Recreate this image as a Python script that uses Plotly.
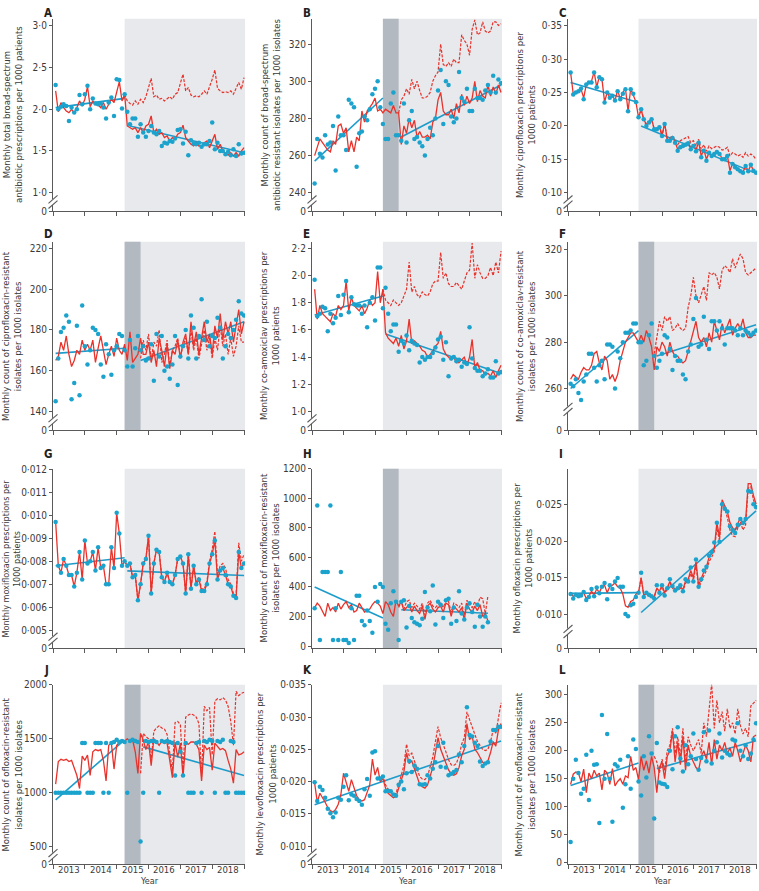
import plotly.graph_objects as go

W, H = 759, 891
MONTHS = list(range(1, 73))
YEAR_LABELS = ["2013", "2014", "2015", "2016", "2017", "2018"]

# ---------------- Panel A ----------------
A_obs = [2.29, 2.00, 2.03, 2.06, 2.04, 1.86, 2.02, 1.96, 2.00, 2.17, 2.06, 2.18,
         2.28, 2.00, 2.13, 2.07, 2.06, 2.07, 2.02, 1.89, 2.08, 2.14, 1.92, 2.36,
         2.35, 2.01, 2.18, 1.97, 1.82, 1.89, 1.89, 1.67, 1.82, 1.72, 1.67, 1.74,
         1.80, 1.72, 1.70, 1.74, 1.56, 1.60, 1.59, 1.62, 1.61, 1.65, 1.75, 1.76,
         1.59, 1.73, 1.45, 1.63, 1.59, 1.58, 1.60, 1.55, 1.58, 1.58, 1.62, 1.84,
         1.52, 1.60, 1.50, 1.50, 1.46, 1.49, 1.45, 1.52, 1.44, 1.58, 1.47, 1.48]
A_fit = [2.22, 1.97, 2.08, 2.02, 1.98, 1.96, 2.00, 1.95, 2.02, 2.10, 2.04, 2.12,
         2.27, 2.03, 2.10, 2.06, 2.05, 2.02, 2.08, 2.00, 2.06, 2.12, 2.08, 2.22,
         2.33, 2.10, 2.18, 1.80, 1.78, 1.76, 1.78, 1.72, 1.78, 1.72, 1.80, 1.82,
         1.92, 1.72, 1.76, 1.70, 1.72, 1.66, 1.68, 1.62, 1.66, 1.64, 1.70, 1.72,
         1.81, 1.66, 1.62, 1.58, 1.56, 1.60, 1.56, 1.56, 1.60, 1.62, 1.54, 1.62,
         1.70, 1.52, 1.58, 1.50, 1.47, 1.45, 1.48, 1.44, 1.48, 1.44, 1.50, 1.54]
A_cf = [2.18,
        2.10, 2.07, 2.05, 2.10, 2.06, 2.12, 2.08, 2.15, 2.25,
        2.37, 2.15, 2.17, 2.12, 2.13, 2.10, 2.12, 2.15, 2.12, 2.18, 2.20, 2.30,
        2.42, 2.22, 2.26, 2.17, 2.15, 2.16, 2.15, 2.18, 2.22, 2.18, 2.26, 2.36,
        2.47, 2.25, 2.22, 2.20, 2.21, 2.20, 2.22, 2.18, 2.25, 2.32, 2.24, 2.38]
A_pre = [2.02, 2.13]
A_post = [1.80, 1.48]

# ---------------- Panel B ----------------
B_obs = [245, 269, 261, 259, 271, 266, 267, 276, 252, 281, 271, 271,
         263, 290, 288, 286, 254, 272, 273, 281, 279, 285, 293, 296,
         300, 286, 277, 269, 269, 288, 294, 271, 271, 268, 288, 267,
         279, 284, 269, 270, 267, 265, 260, 269, 275, 271, 280, 295,
         306, 277, 300, 298, 281, 278, 280, 305, 291, 289, 296, 284,
         284, 296, 291, 291, 290, 295, 298, 294, 303, 294, 301, 299]
B_fit = [260, 264, 269, 267, 265, 263, 262, 268, 266, 276, 277, 272,
         275, 262, 268, 262, 270, 268, 284, 278, 284, 286, 288, 291,
         284, 285, 283, 285, 284, 283, 287, 283, 283, 266, 276, 272,
         280, 275, 279, 270, 273, 270, 270, 271, 269, 278, 280, 290,
         294, 284, 282, 282, 285, 280, 288, 283, 293, 287, 292, 288,
         291, 300, 289, 295, 292, 291, 298, 292, 297, 293, 298, 294]
B_cf = [283, 290, 292, 296,
        293, 301, 296, 300, 295, 291, 291, 292, 294, 300, 303, 305,
        320, 309, 308, 310, 308, 312, 310, 310, 325, 322, 320, 314,
        328, 333, 325, 326, 332, 327, 326, 327, 332, 332, 330, 331]
B_pre = [257, 291]
B_post = [270, 298]

# ---------------- Panel C ----------------
C_obs = [0.280, 0.247, 0.250, 0.252, 0.256, 0.240, 0.262, 0.265, 0.265, 0.280, 0.258, 0.273,
         0.270, 0.235, 0.250, 0.242, 0.245, 0.238, 0.252, 0.240, 0.248, 0.255, 0.222, 0.255,
         0.248, 0.236, 0.213, 0.225, 0.210, 0.200, 0.205, 0.210, 0.195, 0.195, 0.198, 0.185,
         0.203, 0.178, 0.178, 0.182, 0.175, 0.163, 0.168, 0.170, 0.172, 0.174, 0.165, 0.170,
         0.162, 0.175, 0.153, 0.163, 0.148, 0.160, 0.155, 0.158, 0.161, 0.158, 0.150, 0.150,
         0.155, 0.130, 0.143, 0.138, 0.135, 0.132, 0.130, 0.140, 0.132, 0.142, 0.133, 0.130]
C_fit = [0.280, 0.248, 0.250, 0.253, 0.255, 0.242, 0.262, 0.265, 0.267, 0.281, 0.258, 0.274,
         0.270, 0.236, 0.250, 0.243, 0.246, 0.238, 0.254, 0.240, 0.250, 0.256, 0.222, 0.256,
         0.247, 0.236, 0.213, 0.224, 0.210, 0.202, 0.207, 0.210, 0.196, 0.196, 0.200, 0.186,
         0.204, 0.180, 0.180, 0.184, 0.176, 0.165, 0.170, 0.171, 0.174, 0.175, 0.166, 0.172,
         0.164, 0.176, 0.155, 0.165, 0.150, 0.160, 0.157, 0.158, 0.162, 0.159, 0.151, 0.152,
         0.156, 0.133, 0.144, 0.139, 0.136, 0.133, 0.131, 0.140, 0.133, 0.141, 0.134, 0.130]
C_cf = [0.213, 0.225, 0.210, 0.200, 0.205, 0.210, 0.195, 0.195, 0.198, 0.185,
        0.203, 0.180, 0.182, 0.185, 0.178, 0.172, 0.178, 0.180, 0.182, 0.184, 0.175, 0.178,
        0.170, 0.180, 0.165, 0.172, 0.162, 0.170, 0.166, 0.168, 0.170, 0.168, 0.164, 0.165,
        0.168, 0.155, 0.160, 0.158, 0.155, 0.157, 0.153, 0.160, 0.155, 0.158, 0.155, 0.150]
C_pre = [0.265, 0.235]
C_post = [0.200, 0.129]

# ---------------- Panel D ----------------
D_obs = [145, 166, 179, 181, 187, 184, 146, 154, 182, 148, 192, 172,
         163, 170, 181, 180, 178, 163, 157, 173, 168, 158, 170, 172,
         178, 177, 170, 162, 175, 162, 171, 177, 170, 172, 165, 166,
         173, 155, 178, 167, 177, 160, 162, 156, 163, 177, 153, 167,
         172, 180, 166, 187, 181, 166, 177, 195, 175, 184, 172, 177,
         176, 186, 181, 166, 172, 178, 176, 180, 185, 194, 188, 187]
D_fit = [165, 167, 174, 170, 177, 168, 162, 165, 170, 168, 175, 170,
         173, 170, 175, 164, 171, 177, 170, 163, 168, 172, 167, 176,
         170, 168, 173, 165, 179, 164, 166, 168, 176, 168, 168, 174,
         164, 170, 162, 176, 170, 162, 173, 161, 170, 168, 175, 166,
         174, 178, 168, 184, 172, 179, 168, 176, 184, 174, 178, 168,
         182, 176, 188, 175, 184, 178, 184, 174, 182, 190, 178, 184]
D_cf = [166, 175, 170, 178,
        165, 174, 172, 180, 164, 168, 175, 162, 170, 172, 176, 167,
        172, 176, 168, 180, 170, 176, 166, 174, 180, 170, 176, 166,
        176, 170, 182, 172, 178, 168, 176, 167, 172, 182, 174, 174]
D_pre = [168.5, 171]
D_post = [165, 184]

# ---------------- Panel E ----------------
E_obs = [1.97, 1.70, 1.72, 1.77, 1.76, 1.59, 1.72, 1.65, 1.69, 1.85, 1.71, 1.86,
         1.96, 1.73, 1.84, 1.79, 1.78, 1.78, 1.72, 1.78, 1.62, 1.80, 1.84, 1.67,
         2.06, 2.06, 1.76, 1.91, 1.72, 1.59, 1.64, 1.64, 1.44, 1.52, 1.50, 1.56,
         1.45, 1.52, 1.50, 1.49, 1.36, 1.40, 1.38, 1.40, 1.40, 1.43, 1.47, 1.53,
         1.55, 1.38, 1.51, 1.26, 1.39, 1.40, 1.37, 1.38, 1.33, 1.36, 1.35, 1.62,
         1.39, 1.32, 1.30, 1.30, 1.26, 1.28, 1.31, 1.25, 1.25, 1.37, 1.28, 1.29]
E_fit = [1.90, 1.68, 1.78, 1.72, 1.70, 1.68, 1.66, 1.72, 1.70, 1.78, 1.75, 1.78,
         1.96, 1.74, 1.84, 1.78, 1.76, 1.74, 1.78, 1.72, 1.76, 1.82, 1.78, 1.80,
         2.03, 1.80, 1.90, 1.58, 1.54, 1.52, 1.50, 1.54, 1.48, 1.56, 1.46, 1.52,
         1.68, 1.50, 1.52, 1.50, 1.48, 1.45, 1.44, 1.40, 1.42, 1.44, 1.48, 1.50,
         1.59, 1.46, 1.42, 1.40, 1.38, 1.40, 1.36, 1.36, 1.38, 1.40, 1.34, 1.40,
         1.53, 1.32, 1.36, 1.30, 1.30, 1.27, 1.28, 1.26, 1.30, 1.25, 1.30, 1.34]
E_cf = [1.90, 1.82, 1.80, 1.78, 1.82, 1.80, 1.78, 1.80, 1.85, 1.90,
        2.10, 1.88, 1.92, 1.86, 1.84, 1.88, 1.86, 1.85, 1.88, 1.94, 1.96, 1.96,
        2.17, 1.98, 2.02, 1.94, 1.92, 1.92, 1.95, 1.92, 1.90, 1.96, 2.02, 2.04,
        2.24, 1.98, 2.08, 2.02, 1.98, 1.98, 2.00, 2.06, 2.00, 2.10, 2.02, 2.18]
E_pre = [1.71, 1.85]
E_post = [1.57, 1.28]

# ---------------- Panel F ----------------
F_obs = [262, 261, 264, 258, 255, 263, 266, 275, 275, 269, 263, 270,
         272, 264, 279, 279, 278, 260, 276, 273, 280, 284, 284, 285,
         288, 288, 280, 280, 270, 272, 283, 288, 274, 269, 272, 275,
         283, 282, 277, 268, 274, 272, 272, 266, 264, 276, 279, 290,
         299, 278, 279, 291, 281, 277, 289, 289, 285, 289, 286, 279,
         286, 286, 286, 285, 283, 286, 283, 285, 284, 283, 284, 285]
F_fit = [264, 266, 265, 264, 267, 269, 268, 268, 270, 275, 276, 271,
         268, 274, 272, 264, 266, 263, 266, 272, 276, 280, 282, 284,
         284, 282, 280, 283, 280, 285, 282, 278, 268, 278, 276, 280,
         278, 274, 280, 276, 274, 274, 272, 271, 272, 276, 280, 285,
         289, 282, 280, 282, 278, 284, 280, 289, 285, 281, 288, 284,
         287, 290, 283, 286, 288, 286, 290, 284, 282, 282, 283, 283]
F_cf = [275, 282, 289, 285,
        291, 289, 291, 285, 286, 288, 286, 285, 286, 295, 300, 308,
        300, 297, 301, 304, 298, 310, 309, 310, 308, 303, 311, 313,
        312, 310, 316, 312, 315, 318, 316, 310, 309, 310, 311, 312]
F_pre = [260, 285]
F_post = [274, 287.5]

# ---------------- Panel G ----------------
G_obs = [0.0097, 0.0078, 0.0075, 0.0081, 0.0078, 0.0074, 0.0074, 0.0069, 0.0075, 0.0084, 0.0072, 0.0089,
         0.0079, 0.0080, 0.0084, 0.0076, 0.0086, 0.0077, 0.0078, 0.0070, 0.0070, 0.0086, 0.0077, 0.0101,
         0.0092, 0.0078, 0.0080, 0.0078, 0.0079, 0.0073, 0.0074, 0.0063, 0.0070, 0.0079, 0.0081, 0.0091,
         0.0066, 0.0079, 0.0085, 0.0084, 0.0073, 0.0071, 0.0075, 0.0071, 0.0070, 0.0074, 0.0081, 0.0082,
         0.0079, 0.0066, 0.0083, 0.0068, 0.0078, 0.0070, 0.0072, 0.0067, 0.0067, 0.0070, 0.0079, 0.0083,
         0.0089, 0.0072, 0.0076, 0.0077, 0.0074, 0.0070, 0.0069, 0.0065, 0.0064, 0.0084, 0.0077, 0.0079]
G_fit = G_obs
G_cf = [0.0080, 0.0078, 0.0079, 0.0073, 0.0074, 0.0063, 0.0070, 0.0079, 0.0081, 0.0091,
        0.0066, 0.0079, 0.0085, 0.0084, 0.0073, 0.0071, 0.0075, 0.0071, 0.0070, 0.0074, 0.0081, 0.0082,
        0.0079, 0.0066, 0.0083, 0.0068, 0.0078, 0.0071, 0.0073, 0.0068, 0.0068, 0.0071, 0.0080, 0.0085,
        0.0093, 0.0074, 0.0078, 0.0079, 0.0077, 0.0072, 0.0070, 0.0066, 0.0065, 0.0088, 0.0080, 0.0083]
G_pre = [0.0078, 0.00815]
G_post = [0.00758, 0.00738]

# ---------------- Panel H (series end in mid-2018) ----------------
H_obs = [255, 950, 40, 500, 500, 500, 950, 40, 255, 40, 500, 40,
         40, 20, 255, 40, 340, 340, 170, 140, 240, 170, 90, 400,
         300, 420, 400, 150, 110, 290, 370, 300, 40, 300, 310, 125,
         270, 190, 160, 150, 140, 185, 365, 260, 235, 410, 145, 300,
         280, 190, 310, 320, 150, 260, 170, 370, 220, 180, 260, 290,
         230, 130, 280, 200, 130, 200, 160]
H_fit = [260, 290, 270, 230, 200, 290, 240, 260, 230, 290, 250, 280,
         300, 260, 280, 230, 240, 290, 260, 230, 240, 250, 280, 300,
         290, 270, 220, 300, 280, 230, 200, 310, 270, 300, 240, 260,
         280, 230, 270, 240, 220, 270, 180, 270, 290, 250, 230, 260,
         270, 230, 290, 280, 200, 270, 250, 230, 260, 180, 290, 250,
         230, 270, 240, 280, 200, 220, 170]
H_cf = [260, 300, 250, 300,
        310, 260, 290, 270, 250, 290, 210, 290, 310, 270, 260, 280,
        290, 260, 310, 300, 230, 290, 280, 260, 290, 210, 310, 280,
        260, 300, 270, 330, 320, 220, 340]
H_pre = [400, 190]
H_post = [245, 222]

# ---------------- Panel I ----------------
I_obs = [0.0128, 0.0122, 0.0127, 0.0125, 0.0126, 0.0131, 0.0120, 0.0124, 0.0135, 0.0125, 0.0137, 0.0129,
         0.0138, 0.0143, 0.0121, 0.0140, 0.0135, 0.0145, 0.0150, 0.0138, 0.0138, 0.0101, 0.0098, 0.0113,
         0.0115, 0.0124, 0.0130, 0.0157, 0.0124, 0.0130, 0.0127, 0.0125, 0.0122, 0.0140, 0.0130, 0.0140,
         0.0126, 0.0136, 0.0148, 0.0139, 0.0133, 0.0136, 0.0140, 0.0132, 0.0148, 0.0145, 0.0164, 0.0145,
         0.0175, 0.0138, 0.0148, 0.0160, 0.0165, 0.0180, 0.0185, 0.0198, 0.0225, 0.0199, 0.0250, 0.0244,
         0.0240, 0.0220, 0.0215, 0.0211, 0.0222, 0.0230, 0.0225, 0.0230, 0.0268, 0.0267, 0.0250, 0.0246]
I_fit = [0.0130, 0.0125, 0.0127, 0.0124, 0.0128, 0.0130, 0.0122, 0.0125, 0.0132, 0.0127, 0.0135, 0.0130,
         0.0138, 0.0140, 0.0130, 0.0138, 0.0140, 0.0143, 0.0138, 0.0136, 0.0128, 0.0112, 0.0110, 0.0118,
         0.0120, 0.0128, 0.0130, 0.0150, 0.0127, 0.0128, 0.0126, 0.0125, 0.0124, 0.0136, 0.0132, 0.0140,
         0.0130, 0.0137, 0.0145, 0.0138, 0.0135, 0.0135, 0.0138, 0.0134, 0.0146, 0.0148, 0.0160, 0.0150,
         0.0172, 0.0140, 0.0150, 0.0158, 0.0165, 0.0178, 0.0183, 0.0190, 0.0225, 0.0205, 0.0256, 0.0248,
         0.0240, 0.0225, 0.0218, 0.0215, 0.0225, 0.0232, 0.0222, 0.0228, 0.0278, 0.0278, 0.0262, 0.0250]
I_cf = [0.0130, 0.0150, 0.0127, 0.0128, 0.0126, 0.0125, 0.0124, 0.0135, 0.0131, 0.0138,
        0.0128, 0.0135, 0.0143, 0.0136, 0.0133, 0.0133, 0.0136, 0.0132, 0.0143, 0.0145, 0.0156, 0.0146,
        0.0168, 0.0136, 0.0145, 0.0153, 0.0160, 0.0172, 0.0178, 0.0186, 0.0218, 0.0200, 0.0252, 0.0244,
        0.0232, 0.0215, 0.0207, 0.0206, 0.0218, 0.0226, 0.0215, 0.0222, 0.0272, 0.0274, 0.0256, 0.0246]
I_pre = [0.0129, 0.0130]
I_post = [0.0103, 0.0241]

# ---------------- Panel J ----------------
J_obs = [1000, 1000, 1000, 1000, 1000, 1000, 1000, 1000, 1000, 1000, 1460, 1460,
         1000, 1000, 1000, 1460, 1460, 1460, 1000, 1460, 1000, 1460, 1470, 1490,
         1470, 1480, 1470, 1000, 1480, 1490, 1480, 1470, 550, 1000, 1480, 1470,
         1480, 1480, 1470, 1000, 1480, 1470, 1480, 1470, 1460, 1160, 1460, 1380,
         1160, 1460, 1000, 1000, 1000, 1460, 1470, 1000, 1480, 1470, 1490, 1480,
         1000, 1480, 1470, 1490, 1000, 1000, 1480, 1470, 1000, 1000, 1000, 1000]
J_fit = [1080, 1290, 1310, 1300, 1310, 1290, 1300, 1230, 1160, 1040, 1340, 1300,
         1350, 1160, 1380, 1400, 1390, 1400, 1300, 1110, 1440, 1460, 1220, 1440,
         1470, 1490, 1480, 1500, 1480, 1490, 1380, 1180, 1550, 1490, 1400, 1480,
         1250, 1500, 1470, 1440, 1480, 1480, 1460, 1300, 1140, 1470, 1330, 1460,
         1150, 1460, 1450, 1470, 1470, 1450, 1400, 1110, 1440, 1400, 1420, 1210,
         1460, 1430, 1400, 1410, 1390, 1300, 1220, 1090, 1400, 1350, 1360, 1380]
J_cf = [1180, 1550, 1520, 1500,
        1300, 1570, 1600, 1620, 1600, 1590, 1540, 1360, 1200, 1650, 1660, 1630,
        1200, 1700, 1720, 1730, 1720, 1700, 1640, 1150, 1800, 1760, 1790, 1350,
        1850, 1870, 1860, 1880, 1860, 1800, 1660, 1440, 1940, 1900, 1920, 1930]
J_pre = [935, 1470]
J_post = [1425, 1160]

# ---------------- Panel K ----------------
K_obs = [0.0199, 0.0170, 0.0192, 0.0187, 0.0175, 0.0158, 0.0151, 0.0145, 0.0152, 0.0175, 0.0172, 0.0192,
         0.0210, 0.0171, 0.0180, 0.0178, 0.0173, 0.0170, 0.0164, 0.0188, 0.0204, 0.0178, 0.0245, 0.0247,
         0.0205, 0.0205, 0.0208, 0.0185, 0.0186, 0.0185, 0.0180, 0.0178, 0.0195, 0.0200, 0.0188, 0.0213,
         0.0232, 0.0215, 0.0225, 0.0220, 0.0196, 0.0195, 0.0196, 0.0210, 0.0205, 0.0220, 0.0230, 0.0255,
         0.0223, 0.0260, 0.0222, 0.0210, 0.0212, 0.0215, 0.0218, 0.0242, 0.0230, 0.0255, 0.0315, 0.0272,
         0.0270, 0.0260, 0.0255, 0.0231, 0.0224, 0.0228, 0.0230, 0.0262, 0.0280, 0.0280, 0.0285, 0.0285]
K_fit = [0.0198, 0.0168, 0.0182, 0.0176, 0.0168, 0.0160, 0.0155, 0.0153, 0.0157, 0.0165, 0.0180, 0.0213,
         0.0200, 0.0185, 0.0203, 0.0190, 0.0178, 0.0172, 0.0170, 0.0172, 0.0185, 0.0195, 0.0235, 0.0210,
         0.0222, 0.0200, 0.0205, 0.0190, 0.0182, 0.0178, 0.0175, 0.0177, 0.0190, 0.0202, 0.0215, 0.0245,
         0.0228, 0.0232, 0.0220, 0.0205, 0.0196, 0.0192, 0.0190, 0.0195, 0.0210, 0.0222, 0.0245, 0.0268,
         0.0250, 0.0240, 0.0230, 0.0218, 0.0212, 0.0210, 0.0212, 0.0222, 0.0240, 0.0250, 0.0290, 0.0265,
         0.0270, 0.0250, 0.0245, 0.0238, 0.0230, 0.0228, 0.0232, 0.0245, 0.0262, 0.0255, 0.0280, 0.0290]
K_cf = [0.0210, 0.0195, 0.0188, 0.0183, 0.0180, 0.0182, 0.0195, 0.0210, 0.0225, 0.0258,
        0.0240, 0.0244, 0.0232, 0.0218, 0.0208, 0.0204, 0.0203, 0.0208, 0.0222, 0.0238, 0.0262, 0.0285,
        0.0268, 0.0258, 0.0246, 0.0234, 0.0226, 0.0225, 0.0228, 0.0240, 0.0258, 0.0268, 0.0308, 0.0296,
        0.0285, 0.0272, 0.0262, 0.0256, 0.0250, 0.0248, 0.0250, 0.0262, 0.0280, 0.0275, 0.0300, 0.0322]
K_trend = [0.0164, 0.0263]

# ---------------- Panel L ----------------
L_obs = [37, 150, 184, 160, 123, 132, 193, 112, 200, 175, 176, 71,
         264, 150, 230, 150, 73, 176, 172, 184, 98, 140, 190, 132,
         220, 203, 145, 120, 190, 152, 226, 195, 79, 214, 143, 141,
         140, 135, 200, 167, 226, 242, 186, 163, 210, 176, 190, 231,
         185, 166, 187, 233, 181, 236, 177, 200, 215, 231, 188, 200,
         195, 192, 220, 218, 249, 200, 190, 210, 185, 195, 220, 249]
L_fit = [140, 158, 162, 160, 145, 167, 125, 160, 150, 165, 155, 160,
         130, 165, 160, 140, 168, 137, 145, 150, 140, 155, 152, 190,
         165, 170, 148, 190, 165, 182, 160, 190, 170, 125, 170, 180,
         150, 190, 200, 235, 180, 215, 175, 225, 165, 210, 190, 180,
         170, 165, 190, 200, 185, 215, 175, 220, 185, 210, 200, 215,
         195, 205, 190, 215, 200, 180, 195, 210, 200, 180, 225, 228]
L_cf = [190, 180, 160, 185,
        165, 200, 210, 240, 195, 225, 190, 240, 180, 225, 210, 200,
        210, 220, 195, 250, 225, 280, 320, 240, 290, 250, 270, 235,
        275, 240, 250, 230, 275, 245, 230, 240, 225, 280, 285, 290]
L_pre = [138, 178]
L_post = [168, 218]

# ---------------- styling ----------------
RED = "#E8322B"
BLUE_DOT = "#1BA3CD"
BLUE_LINE = "#1D9CCB"
LIGHT = "#E7E9EC"
DARK = "#B3B9C0"
AXIS = "#5A5A5A"
TEXT = "#3A3A3A"
FONT = "Liberation Sans Narrow, DejaVu Sans Condensed, Roboto, sans-serif"

COLS = [(53, 245), (312, 502), (568, 757)]
ROWS = [(13, 208), (239, 430), (469, 651), (688, 870)]
LETTER_Y = [7, 231, 454, 673]
XR = [2013, 2019.03]


def mx(m):
    return 2013 + m / 12.0


def dec(v, nd):
    return f"{v:.{nd}f}".replace(".", "·")


panels = [
    dict(letter="A", obs=A_obs, fit=A_fit, cf=A_cf, cf0=27, trends=[(1, 27, A_pre), (29, 72, A_post)], lag=False,
         yr=[0.779, 3.083], ticks=[1.0, 1.5, 2.0, 2.5, 3.0], nd=1, brk=True, toff=41, tfs=9.5,
         title="Monthly total broad-spectrum<br>antibiotic prescriptions per 1000 patients"),
    dict(letter="B", obs=B_obs, fit=B_fit, cf=B_cf, cf0=33, trends=[(1, 27, B_pre), (34, 72, B_post)], lag=True,
         yr=[230.1, 333.6], ticks=[240, 260, 280, 300, 320], nd=0, brk=True, toff=42, tfs=9.5,
         title="Monthly count of broad-spectrum<br>antibiotic resistant isolates per 1000 isolates"),
    dict(letter="C", obs=C_obs, fit=C_fit, cf=C_cf, cf0=27, trends=[(1, 27, C_pre), (28, 72, C_post)], lag=False,
         yr=[0.0724, 0.3603], ticks=[0.10, 0.15, 0.20, 0.25, 0.30, 0.35], nd=2, brk=True, toff=43, tfs=9.5,
         title="Monthly ciprofloxacin prescriptions per<br>1000 patients"),
    dict(letter="D", obs=D_obs, fit=D_fit, cf=D_cf, cf0=33, trends=[(1, 27, D_pre), (33, 72, D_post)], lag=True,
         yr=[130.8, 223.2], ticks=[140, 160, 180, 200, 220], nd=0, brk=True, toff=41, tfs=9.5,
         title="Monthly count of ciprofloxacin-resistant<br>isolates per 1000 isolates"),
    dict(letter="E", obs=E_obs, fit=E_fit, cf=E_cf, cf0=27, trends=[(1, 27, E_pre), (28, 72, E_post)], lag=False,
         yr=[0.862, 2.249], ticks=[1.0, 1.2, 1.4, 1.6, 1.8, 2.0, 2.2], nd=1, brk=True, toff=42, tfs=9.5,
         title="Monthly co-amoxiclav prescriptions per<br>1000 patients"),
    dict(letter="F", obs=F_obs, fit=F_fit, cf=F_cf, cf0=33, trends=[(1, 27, F_pre), (34, 72, F_post)], lag=True,
         yr=[242, 323.3], ticks=[260, 280, 300, 320], nd=0, brk=True, toff=42, tfs=9.5,
         title="Monthly count of co-amoxiclav-resistant<br>isolates per 1000 isolates"),
    dict(letter="G", obs=G_obs, fit=G_fit, cf=G_cf, cf0=27, trends=[(1, 27, G_pre), (28, 72, G_post)], lag=False,
         yr=[0.004217, 0.01202], ticks=[0.005, 0.006, 0.007, 0.008, 0.009, 0.010, 0.011, 0.012], nd=3, brk=True,
         toff=41, tfs=9, title="Monthly moxifloxacin prescriptions per<br>1000 patients"),
    dict(letter="H", obs=H_obs, fit=H_fit, cf=H_cf, cf0=33, trends=[(1, 27, H_pre), (34, 67, H_post)], lag=True,
         yr=[-15, 1200], ticks=[0, 200, 400, 600, 800, 1000, 1200], nd=0, brk=False, toff=43, tfs=9.5,
         title="Monthly count of moxifloxacin-resistant<br>isolates per 1000 isolates"),
    dict(letter="I", obs=I_obs, fit=I_fit, cf=I_cf, cf0=27, trends=[(1, 27, I_pre), (28, 72, I_post)], lag=False,
         yr=[0.00545, 0.02983], ticks=[0.010, 0.015, 0.020, 0.025, 0.030], nd=3, brk=True, toff=46, tfs=9.5,
         title="Monthly ofloxacin prescriptions per<br>1000 patients"),
    dict(letter="J", obs=J_obs, fit=J_fit, cf=J_cf, cf0=33, trends=[(1, 26, J_pre), (34, 72, J_post)], lag=True,
         yr=[339, 2000], ticks=[500, 1000, 1500, 2000], nd=0, brk=True, toff=41, tfs=9.5,
         title="Monthly count of ofloxacin-resistant<br>isolates per 1000 isolates"),
    dict(letter="K", obs=K_obs, fit=K_fit, cf=K_cf, cf0=27, trends=[(1, 72, K_trend)], lag=False,
         yr=[0.0072, 0.035], ticks=[0.010, 0.015, 0.020, 0.025, 0.030, 0.035], nd=3, brk=True, toff=46, tfs=9.5,
         title="Monthly levofloxacin prescriptions per<br>1000 patients"),
    dict(letter="L", obs=L_obs, fit=L_fit, cf=L_cf, cf0=33, trends=[(1, 27, L_pre), (34, 72, L_post)], lag=True,
         yr=[-3, 318], ticks=[0, 50, 100, 150, 200, 250, 300], nd=0, brk=False, toff=43, tfs=9.5,
         title="Monthly count of evofloxacin-resistant<br>isolates per 1000 isolates"),
]

fig = go.Figure()
layout = dict(width=W, height=H, margin=dict(l=0, r=0, t=0, b=0), paper_bgcolor="white",
              plot_bgcolor="rgba(0,0,0,0)", showlegend=False, font=dict(family=FONT, color=TEXT, size=10))
shapes = []
annotations = []

for i, p in enumerate(panels):
    n = i + 1
    r, c = divmod(i, 3)
    xl, xr = COLS[c]
    yt, yb = ROWS[r]
    xa = "x" if n == 1 else f"x{n}"
    ya = "y" if n == 1 else f"y{n}"
    xkey = "xaxis" if n == 1 else f"xaxis{n}"
    ykey = "yaxis" if n == 1 else f"yaxis{n}"

    nobs = len(p["obs"])
    xs = [mx(m) for m in MONTHS[:nobs]]

    for (m0, m1, vals) in p["trends"]:
        fig.add_trace(go.Scatter(x=[mx(m0), mx(m1)], y=vals, mode="lines", xaxis=xa, yaxis=ya,
                                 line=dict(color=BLUE_LINE, width=1.6), hoverinfo="skip"))
    cf_x = [mx(m) for m in range(p["cf0"], p["cf0"] + len(p["cf"]))]
    fig.add_trace(go.Scatter(x=cf_x, y=p["cf"], mode="lines", xaxis=xa, yaxis=ya,
                             line=dict(color=RED, width=1.2, dash="3px,1.5px")))
    fig.add_trace(go.Scatter(x=xs, y=p["fit"], mode="lines", xaxis=xa, yaxis=ya,
                             line=dict(color=RED, width=1.3)))
    fig.add_trace(go.Scatter(x=xs, y=p["obs"], mode="markers", xaxis=xa, yaxis=ya,
                             marker=dict(color=BLUE_DOT, size=4.5)))

    r0, r1 = p["yr"]
    tv = list(p["ticks"])
    tt = [dec(v, p["nd"]) for v in tv]
    if p["brk"]:
        tv = [r0] + tv
        tt = ["0"] + tt

    layout[xkey] = dict(domain=[xl / W, xr / W], range=XR, anchor=ya, showgrid=False, zeroline=False,
                        showline=True, linecolor=AXIS, linewidth=1.2, ticks="outside", ticklen=4,
                        tickcolor=AXIS, tickwidth=1.2, tickvals=list(range(2013, 2020)),
                        showticklabels=False, fixedrange=True)
    layout[ykey] = dict(domain=[1 - yb / H, 1 - yt / H], range=[r0, r1], anchor=xa, showgrid=False,
                        zeroline=False, showline=True, linecolor=AXIS, linewidth=1.2, ticks="outside",
                        ticklen=3, tickcolor=AXIS, tickwidth=1.2, tickvals=tv, ticktext=tt,
                        tickfont=dict(size=10, color=TEXT, family=FONT), fixedrange=True)

    shapes.append(dict(type="rect", xref=xa, yref=f"{ya} domain", x0=mx(27), x1=XR[1], y0=0, y1=1,
                       fillcolor=LIGHT, line=dict(width=0), layer="below"))
    if p["lag"]:
        shapes.append(dict(type="rect", xref=xa, yref=f"{ya} domain", x0=mx(27), x1=mx(33), y0=0, y1=1,
                           fillcolor=DARK, line=dict(width=0), layer="below"))

    if p["brk"]:
        low = p["ticks"][0]
        ylow = yb - (low - r0) / (r1 - r0) * (yb - yt)
        yc = (ylow + yb) / 2.0
        shapes.append(dict(type="rect", xref="paper", yref="paper", x0=(xl - 2) / W, x1=(xl + 2) / W,
                           y0=1 - (yc + 3) / H, y1=1 - (yc - 3) / H, fillcolor="white",
                           line=dict(width=0), layer="above"))
        for dy in (-2.6, 2.6):
            shapes.append(dict(type="line", xref="paper", yref="paper",
                               x0=(xl - 4.5) / W, y0=1 - (yc + dy + 4) / H,
                               x1=(xl + 4.5) / W, y1=1 - (yc + dy - 4) / H,
                               line=dict(color=AXIS, width=1.1), layer="above"))

    annotations.append(dict(text=f"<b>{p['letter']}</b>", xref="paper", yref="paper", x=(xl - 10) / W,
                            y=1 - LETTER_Y[r] / H, xanchor="left", yanchor="middle", showarrow=False,
                            borderpad=0, font=dict(size=11.5, color="#222222", family=FONT)))
    annotations.append(dict(text=p["title"], xref="paper", yref="paper", x=(xl - p["toff"]) / W,
                            y=1 - ((yt + yb) / 2) / H, xanchor="center", yanchor="middle",
                            textangle=-90, showarrow=False, borderpad=0,
                            font=dict(size=p["tfs"], color=TEXT, family=FONT)))
    if r == 3:
        for k, yl in enumerate(YEAR_LABELS):
            annotations.append(dict(text=yl, xref=xa, yref="paper", x=2013.5 + k, y=1 - 875 / H,
                                    xanchor="center", yanchor="middle", showarrow=False, borderpad=0,
                                    font=dict(size=9.5, color=TEXT, family=FONT)))
        annotations.append(dict(text="Year", xref="paper", yref="paper", x=((xl + xr) / 2) / W,
                                y=-2 / H, xanchor="center", yanchor="bottom", showarrow=False, borderpad=0,
                                font=dict(size=9, color=TEXT, family=FONT)))

layout["shapes"] = shapes
layout["annotations"] = annotations
fig.update_layout(**layout)
fig.write_html("out.html", config={"displayModeBar": False},
               post_script="document.body.style.margin='0';document.body.style.padding='0';"
                           "document.documentElement.style.overflow='hidden';")
